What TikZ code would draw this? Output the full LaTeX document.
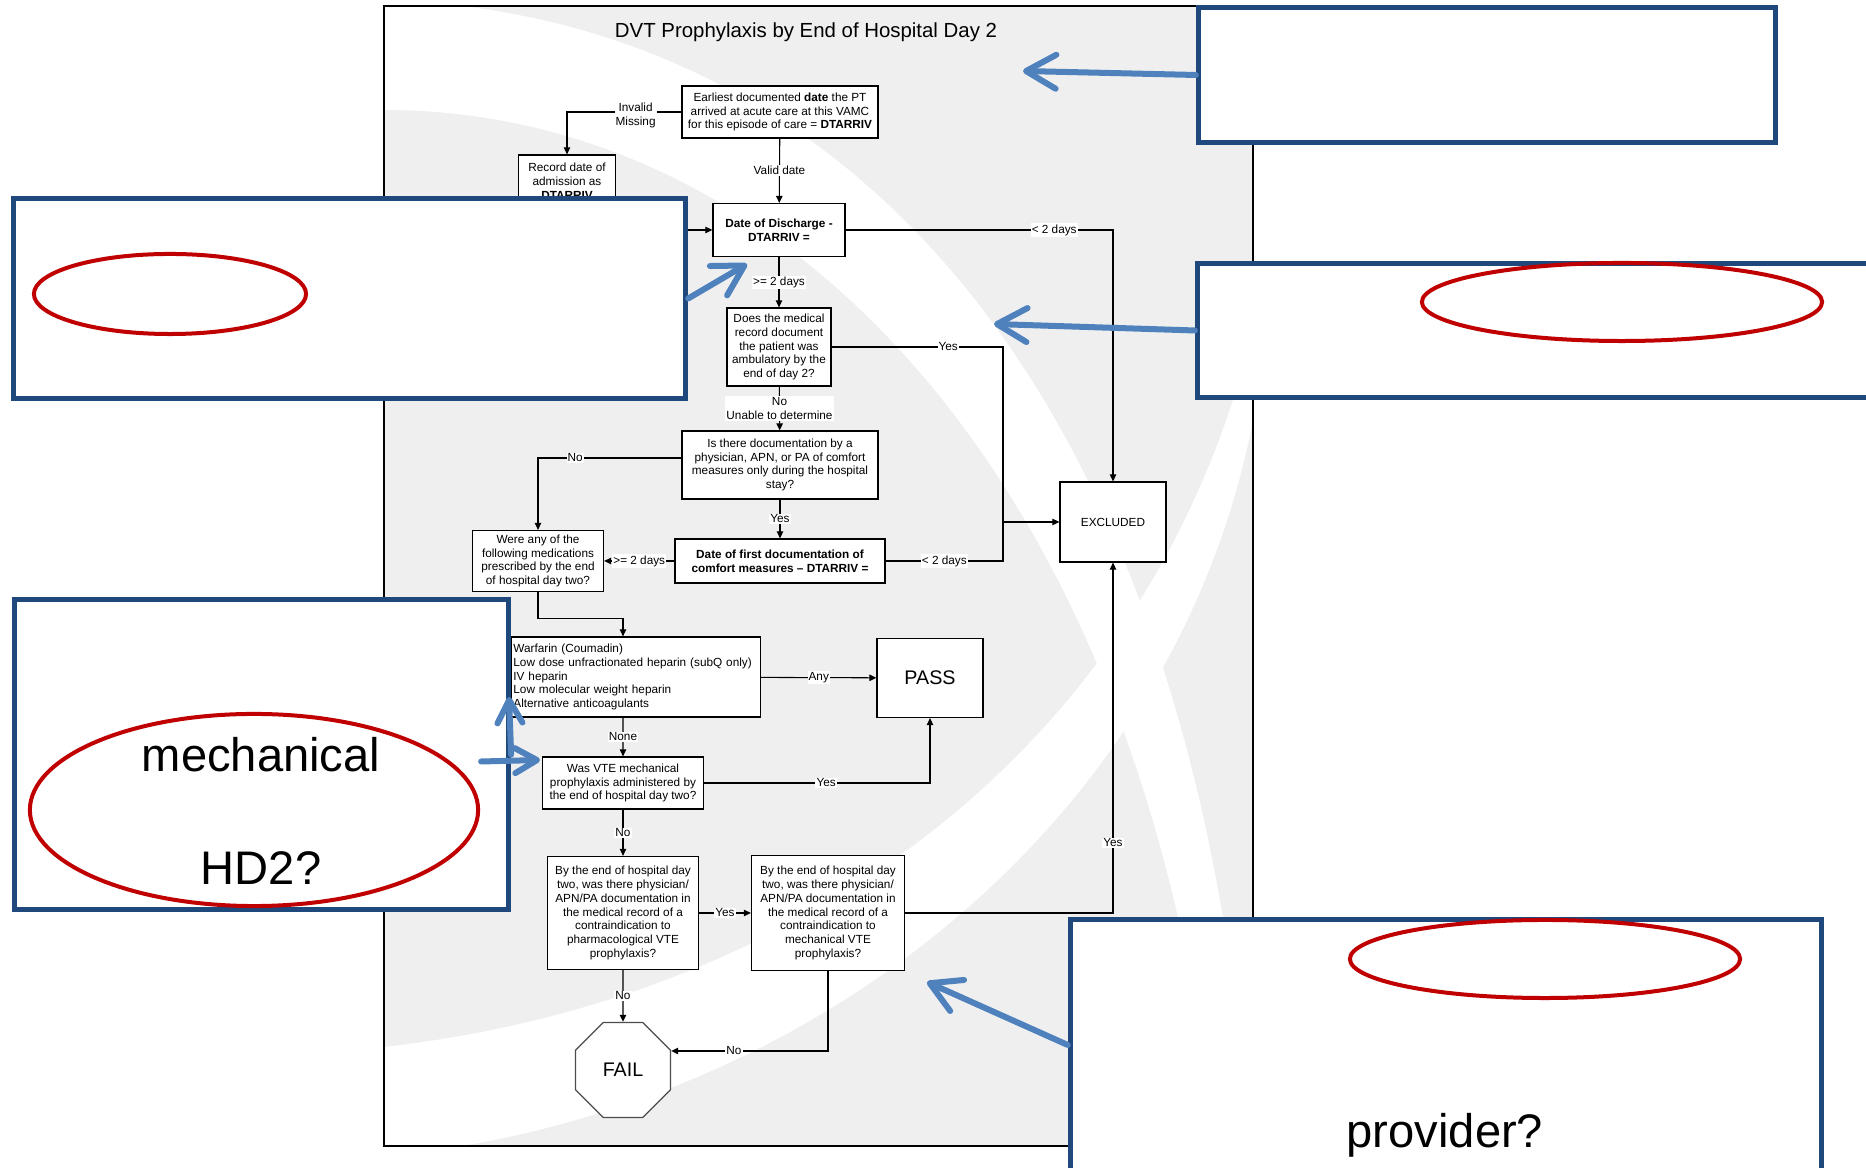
\documentclass[tikz,border=0pt]{standalone}
\usepackage{fontspec}
\setmainfont{Liberation Sans}
\usetikzlibrary{arrows.meta, shapes.geometric}
\definecolor{calloutblue}{RGB}{31,73,125}
\definecolor{pointblue}{RGB}{79,129,189}
\definecolor{ringred}{RGB}{192,0,0}
\definecolor{bggray}{RGB}{239,239,239}
\newcommand{\flowfont}{\fontsize{3.35}{3.95}\selectfont}
\newcommand{\bigfont}{\fontsize{5.6}{6.7}\selectfont}
\newcommand{\titlefont}{\fontsize{5.8}{7}\selectfont}
\newcommand{\notefont}{\fontsize{13.4}{16}\selectfont}

\begin{document}
\begin{tikzpicture}[x=0.01cm, y=-0.01cm,
    box/.style={draw, line width=0.35pt, fill=white, align=center, inner sep=0.02cm, font=\flowfont},
    lbl/.style={fill=white, inner sep=0.3pt, align=center, font=\flowfont},
    arr/.style={-{Triangle[length=0.07cm, width=0.065cm]}, line width=0.3pt},
    line/.style={line width=0.3pt},
    callout/.style={draw=calloutblue, line width=0.05cm, fill=white},
    ring/.style={draw=ringred, line width=0.04cm, ellipse},
    pointer/.style={draw=pointblue, line width=0.06cm, line cap=round, -{Straight Barb[length=0.3cm, width=0.34cm, round]}}
  ]
  \useasboundingbox (0,0) rectangle (1866,1168);

  % Background
  \begin{scope}
    \clip (384,6) rectangle (1253,1146);
    \fill[bggray] (384,6) rectangle (1253,1146);
    \fill[white] (384,6) -- (462,6) .. controls (900,60) and (1200,450) .. (1250,1146) -- (1215,1146) .. controls (1150,500) and (800,110) .. (384,110) -- cycle;
    \fill[white] (384,1146) -- (462,1146) .. controls (850,1080) and (1180,800) .. (1253,420) -- (1253,330) .. controls (1150,750) and (800,1000) .. (384,1047) -- cycle;
  \end{scope}
  \draw[line width=0.02cm] (384,6) rectangle (1253,1146);

  % Draw nodes
  \node[font=\titlefont] (title) at (806,32) {DVT Prophylaxis by End of Hospital Day 2};
  \node[box, minimum width=1.96cm, minimum height=0.52cm] (arriv) at (780,112) {Earliest documented \textbf{date} the PT\\arrived at acute care at this VAMC\\for this episode of care = \textbf{DTARRIV}};
  \node[box, minimum width=0.97cm, minimum height=0.52cm] (record) at (567,181) {Record date of\\admission as\\\textbf{DTARRIV}};
  \node[box, minimum width=1.32cm, minimum height=0.53cm] (disch) at (779,230) {\textbf{Date of Discharge -}\\\textbf{DTARRIV =}};
  \node[box, minimum width=1.04cm, minimum height=0.78cm] (amb) at (779,347) {Does the medical\\record document\\the patient was\\ambulatory by the\\end of day 2?};
  \node[box, minimum width=1.96cm, minimum height=0.68cm] (comfort) at (780,465) {Is there documentation by a\\physician, APN, or PA of comfort\\measures only during the hospital\\stay?};
  \node[box, minimum width=2.10cm, minimum height=0.44cm] (first) at (780,561) {\textbf{Date of first documentation of}\\\textbf{comfort measures – DTARRIV =}};
  \node[box, minimum width=1.31cm, minimum height=0.61cm] (were) at (538,561) {Were any of the\\following medications\\prescribed by the end\\of hospital day two?};
  \node[box, minimum width=1.06cm, minimum height=0.80cm] (excl) at (1113,522) {EXCLUDED};
  \node[box, text width=2.45cm, minimum height=0.80cm, align=left] (meds) at (636,677) {Warfarin (Coumadin)\\Low dose unfractionated heparin (subQ only)\\IV heparin\\Low molecular weight heparin\\Alternative anticoagulants};
  \node[box, minimum width=1.06cm, minimum height=0.79cm, font=\bigfont] (pass) at (930,678) {PASS};
  \node[box, minimum width=1.61cm, minimum height=0.52cm] (vte) at (623,783) {Was VTE mechanical\\prophylaxis administered by\\the end of hospital day two?};
  \node[box, minimum width=1.51cm, minimum height=1.13cm] (pharm) at (623,913) {By the end of hospital day\\two, was there physician/\\APN/PA documentation in\\the medical record of a\\contraindication to\\pharmacological VTE\\prophylaxis?};
  \node[box, minimum width=1.53cm, minimum height=1.15cm] (mech) at (828,913) {By the end of hospital day\\two, was there physician/\\APN/PA documentation in\\the medical record of a\\contraindication to\\mechanical VTE\\prophylaxis?};
  \node[regular polygon, regular polygon sides=8, draw=black!70, line width=0.35pt, fill=white, minimum size=1.03cm, inner sep=0pt, font=\bigfont] (fail) at (623,1070) {FAIL};

  % Draw connections
  \draw[arr] (arriv.west) -| (record.north) node[lbl, pos=0.2, yshift=-0.035cm] {Invalid\\Missing};
  \draw[arr] (arriv) -- (disch) node[lbl, midway] {Valid date};
  \draw[arr] (record.south) |- (disch.west);
  \draw[arr] (disch.east) -| (excl.north) node[lbl, pos=0.39] {< 2 days};
  \draw[arr] (disch) -- (amb) node[lbl, midway] {>= 2 days};
  \coordinate (merge) at (1003,522);
  \draw[line] (amb.east) -| (merge) node[lbl, pos=0.34] {Yes};
  \draw[line] (first.east) -| (merge) node[lbl, pos=0.25] {< 2 days};
  \draw[arr] (merge) -- (excl.west);
  \draw[arr] (amb) -- (comfort) node[lbl, midway] {No\\Unable to determine};
  \draw[arr] ([yshift=0.07cm]comfort.west) -| (were.north) node[lbl, pos=0.37] {No};
  \draw[arr] (comfort) -- (first) node[lbl, midway] {Yes};
  \draw[arr] (first) -- (were) node[lbl, midway] {>= 2 days};
  \draw[arr] (were.south) -- ++(0,26) -| ([xshift=-0.13cm]meds.north);
  \draw[arr] (meds) -- (pass) node[lbl, midway] {Any};
  \draw[arr] ([xshift=-0.13cm]meds.south) -- (vte) node[lbl, midway] {None};
  \draw[arr] (vte.east) -| (pass.south) node[lbl, pos=0.27] {Yes};
  \draw[arr] (vte) -- (pharm) node[lbl, midway] {No};
  \draw[arr] (pharm) -- (mech) node[lbl, midway] {Yes};
  \draw[arr] (pharm) -- (fail) node[lbl, midway] {No};
  \draw[arr] (mech.east) -| (excl.south) node[lbl, pos=0.6] {Yes};
  \draw[arr] (mech.south) |- ([yshift=0.19cm]fail.east) node[lbl, pos=0.8] {No};

  % Callouts
  \node[callout, minimum width=5.77cm, minimum height=1.35cm] (noteA) at (1487,75) {};
  \coordinate (tipA) at (1023,71);
  \draw[pointer] (noteA.west) -- (tipA);

  \node[callout, minimum width=6.72cm, minimum height=2.00cm] (noteB) at (349.5,298.5) {};
  \node[ring, minimum width=2.72cm, minimum height=0.80cm] (ringB) at (170,294) {};
  \coordinate (tipB) at (747,264);
  \draw[pointer] (noteB.east) -- (tipB);

  \node[callout, minimum width=7.05cm, minimum height=1.34cm] (noteC) at (1550,330.5) {};
  \node[ring, minimum width=4.00cm, minimum height=0.78cm] (ringC) at (1622,302) {};
  \coordinate (tipC) at (994,324);
  \draw[pointer] (noteC.west) -- (tipC);

  \node[callout, minimum width=4.94cm, minimum height=3.10cm] (noteD) at (261.5,754.5) {};
  \node[ring, minimum width=4.48cm, minimum height=1.92cm] (ringD) at (254,810) {};
  \node[font=\notefont, anchor=base] (mechD) at (261,772) {mechanical};
  \node[font=\notefont, anchor=base] (hdD) at (261,885) {HD2?};
  \coordinate (tipD1) at (509,697);
  \coordinate (tipD2) at (540,760);
  \draw[pointer, -{Straight Barb[length=0.23cm, width=0.25cm, round]}] (noteD.east) -- (tipD1);
  \draw[pointer, -{Straight Barb[length=0.22cm, width=0.25cm, round]}] ([xshift=-0.3cm, yshift=-0.07cm]noteD.east) -- (tipD2);

  \node[callout, minimum width=7.51cm, minimum height=2.81cm] (noteE) at (1446,1060) {};
  \node[ring, minimum width=3.90cm, minimum height=0.78cm] (ringE) at (1545,959) {};
  \node[font=\notefont, anchor=base] (provE) at (1445,1148) {provider?};
  \coordinate (tipE) at (927,982);
  \draw[pointer] ([yshift=0.15cm]noteE.west) -- (tipE);
\end{tikzpicture}
\end{document}
